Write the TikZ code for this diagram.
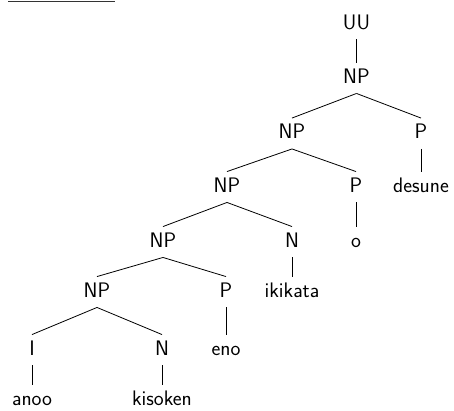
\documentclass[tikz,border=0pt]{standalone}
\begin{document}
\begin{tikzpicture}[x=1pt,y=-1pt,
  lab/.style={font=\sffamily\fontsize{21}{25}\selectfont, inner sep=0pt,
    text height=14.5pt, text depth=0pt, anchor=center},
  edge/.style={line width=0.8pt}]
\useasboundingbox (0,0) rectangle (454,410);
\draw[line width=1.1pt, black!80] (8,1.5) coordinate (r1) -- (115,1.5) coordinate (r2);
\node[lab] (uu) at (356.5,22) {UU};
\node[lab] (np1) at (356.5,76) {NP};
\node[lab] (np2) at (292,131.5) {NP};
\node[lab] (p1) at (421,131.5) {P};
\node[lab] (desune) at (421,185) {desune};
\node[lab] (np3) at (227,185) {NP};
\node[lab] (p2) at (356,185) {P};
\node[lab] (o) at (356,240) {o};
\node[lab] (np4) at (163,240) {NP};
\node[lab] (n1) at (292,240) {N};
\node[lab] (ikikata) at (292,290) {ikikata};
\node[lab] (np5) at (97,290) {NP};
\node[lab] (p3) at (226,290) {P};
\node[lab] (eno) at (226,348) {eno};
\node[lab] (i) at (32,348) {I};
\node[lab] (n2) at (162,348) {N};
\node[lab] (anoo) at (32,398) {anoo};
\node[lab] (kisoken) at (162,398) {kisoken};
\newcommand\br[2]{\draw[edge] ([yshift=-10pt]#1.south) -- ([yshift=6pt]#2.north);}
\br{uu}{np1}
\br{np1}{np2}
\br{np1}{p1}
\br{p1}{desune}
\br{np2}{np3}
\br{np2}{p2}
\br{p2}{o}
\br{np3}{np4}
\br{np3}{n1}
\br{n1}{ikikata}
\br{np4}{np5}
\br{np4}{p3}
\br{p3}{eno}
\br{np5}{i}
\br{np5}{n2}
\br{i}{anoo}
\br{n2}{kisoken}
\end{tikzpicture}
\end{document}
